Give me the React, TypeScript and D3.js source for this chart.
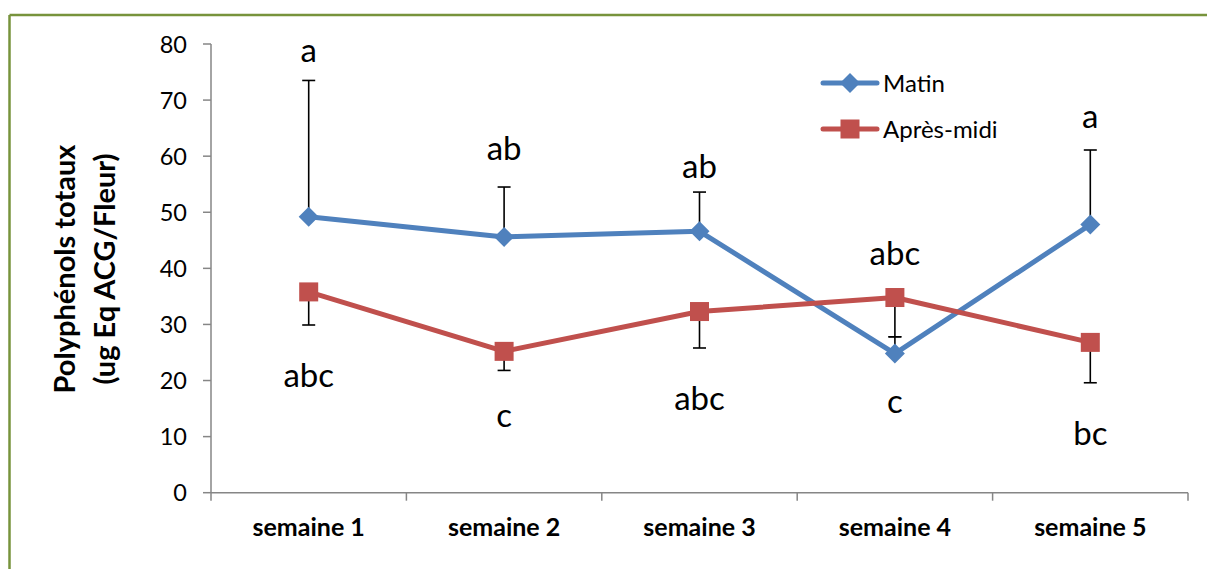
import React from "react";
import * as d3 from "d3";

const categories = ["semaine 1", "semaine 2", "semaine 3", "semaine 4", "semaine 5"];
const yTicks = [0, 10, 20, 30, 40, 50, 60, 70, 80];

const matin = [49.2, 45.6, 46.6, 24.8, 47.8];
const matinUpper = [73.5, 54.5, 53.6, 27.8, 61.1];
const matinLetters = ["a", "ab", "ab", "abc", "a"];
const matinLetterY = [76.8, 59.3, 56.1, 40.6, 65.0];

const apres = [35.8, 25.2, 32.3, 34.8, 26.8];
const apresLower = [29.9, 21.8, 25.8, 27.8, 19.6];
const apresLetters = ["abc", "c", "abc", "c", "bc"];
const apresLetterY = [18.8, 11.7, 14.7, 14.2, 8.5];

const W = 1207;
const H = 569;
const FONT = "Lato, 'Liberation Sans', sans-serif";
const BLUE = "#4F81BD";
const RED = "#C0504D";
const AXIS = "#868686";

const App = () => {
  const x = d3.scaleBand<string>().domain(categories).range([211, 1188]);
  const y = d3.scaleLinear().domain([0, 80]).range([492.7, 44]);
  const cx = (i: number) => (x(categories[i]) as number) + x.bandwidth() / 2;

  const line = d3
    .line<number>()
    .x((_, i) => cx(i))
    .y((d) => y(d));

  const diamond = (px: number, py: number, r: number) =>
    `M${px},${py - r}L${px + r},${py}L${px},${py + r}L${px - r},${py}Z`;

  const boundaries = [...categories.map((c) => x(c) as number), 1188];

  return (
    <svg
      width={W}
      height={H}
      style={{ position: "absolute", left: 0, top: 0, background: "white" }}
      fontFamily={FONT}
    >
      <rect x={0} y={0} width={W} height={H} fill="white" />
      {/* chart frame */}
      <line x1={9.5} y1={15} x2={W} y2={15} stroke="#77933C" strokeWidth={2.5} />
      <line x1={9.5} y1={15} x2={9.5} y2={H} stroke="#77933C" strokeWidth={2.5} />

      {/* y axis */}
      <line x1={211} y1={y(80)} x2={211} y2={y(0)} stroke={AXIS} strokeWidth={1.5} />
      {yTicks.map((t) => (
        <g key={t}>
          <line x1={203} x2={211} y1={y(t)} y2={y(t)} stroke={AXIS} strokeWidth={1.5} />
          <text x={187} y={y(t) + 8.5} textAnchor="end" fontSize={23.5} fill="#000">
            {t}
          </text>
        </g>
      ))}

      {/* x axis */}
      <line x1={211} y1={y(0)} x2={1188} y2={y(0)} stroke={AXIS} strokeWidth={1.5} />
      {boundaries.map((b, i) => (
        <line key={i} x1={b} x2={b} y1={y(0)} y2={y(0) + 8} stroke={AXIS} strokeWidth={1.5} />
      ))}
      {categories.map((c, i) => (
        <text key={c} x={cx(i)} y={536} textAnchor="middle" fontSize={25} fontWeight="bold">
          {c}
        </text>
      ))}

      {/* y axis title */}
      <g transform="translate(0,269) rotate(-90)" fontWeight="bold" fontSize={29}>
        <text x={0} y={75} textAnchor="middle">
          Polyphénols totaux
        </text>
        <text x={0} y={115} textAnchor="middle">
          (ug Eq ACG/Fleur)
        </text>
      </g>

      {/* error bars */}
      {matin.map((v, i) => (
        <g key={"em" + i} stroke="#000" strokeWidth={1.6}>
          <line x1={cx(i)} x2={cx(i)} y1={y(v)} y2={y(matinUpper[i])} />
          <line x1={cx(i) - 6.5} x2={cx(i) + 6.5} y1={y(matinUpper[i])} y2={y(matinUpper[i])} />
        </g>
      ))}
      {apres.map((v, i) => (
        <g key={"ea" + i} stroke="#000" strokeWidth={1.6}>
          <line x1={cx(i)} x2={cx(i)} y1={y(v)} y2={y(apresLower[i])} />
          <line x1={cx(i) - 6.5} x2={cx(i) + 6.5} y1={y(apresLower[i])} y2={y(apresLower[i])} />
        </g>
      ))}

      {/* Matin series */}
      <path d={line(matin) as string} fill="none" stroke={BLUE} strokeWidth={5} strokeLinejoin="round" />
      {matin.map((v, i) => (
        <path key={"m" + i} d={diamond(cx(i), y(v), 10)} fill={BLUE} />
      ))}

      {/* Après-midi series */}
      <path d={line(apres) as string} fill="none" stroke={RED} strokeWidth={5} strokeLinejoin="round" />
      {apres.map((v, i) => (
        <rect key={"a" + i} x={cx(i) - 9.5} y={y(v) - 9.5} width={19} height={19} fill={RED} />
      ))}

      {/* significance letters */}
      {matinLetters.map((l, i) => (
        <text key={"lm" + i} x={cx(i)} y={y(matinLetterY[i])} textAnchor="middle" fontSize={33}>
          {l}
        </text>
      ))}
      {apresLetters.map((l, i) => (
        <text key={"la" + i} x={cx(i)} y={y(apresLetterY[i])} textAnchor="middle" fontSize={33}>
          {l}
        </text>
      ))}

      {/* legend */}
      <g>
        <line x1={823} x2={877} y1={83} y2={83} stroke={BLUE} strokeWidth={5} strokeLinecap="round" />
        <path d={diamond(850, 83, 10)} fill={BLUE} />
        <text x={883} y={92} fontSize={24}>
          Matin
        </text>
        <line x1={823} x2={877} y1={129} y2={129} stroke={RED} strokeWidth={5} strokeLinecap="round" />
        <rect x={840.5} y={119.5} width={19} height={19} fill={RED} />
        <text x={883} y={138} fontSize={24}>
          Après-midi
        </text>
      </g>
    </svg>
  );
};

export default App;
